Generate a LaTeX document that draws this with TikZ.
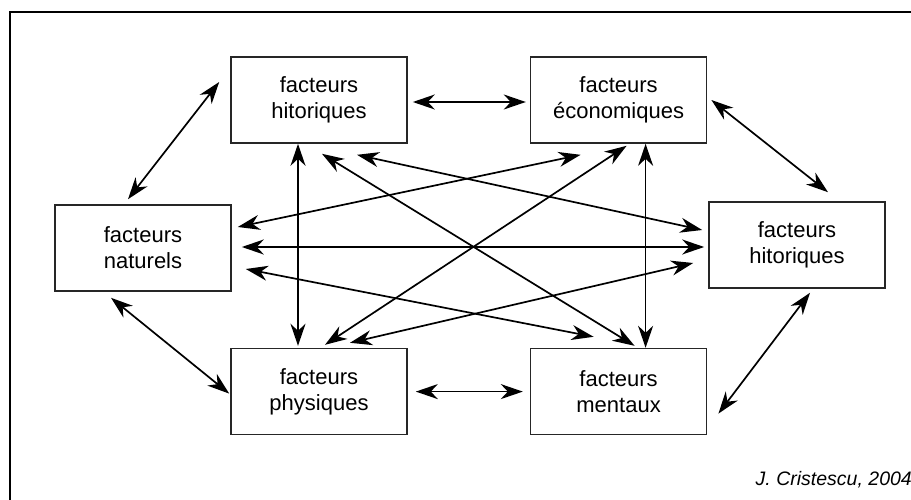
\documentclass[tikz,border=0pt]{standalone}
\usepackage{fontspec}
\setmainfont{Liberation Sans}
\usetikzlibrary{arrows.meta,positioning,calc}

\begin{document}
\begin{tikzpicture}[x=1pt,y=-1pt,
   factor/.style={draw=black!85,fill=white,line width=1.6pt,minimum width=176pt,
                  minimum height=86pt,inner sep=0pt,align=center,
                  font=\fontsize{22pt}{26pt}\selectfont},
   link/.style={line width=1.7pt,>={Stealth[length=22pt,width=15pt,inset=7pt]},<->}]
  \useasboundingbox (0,0) rectangle (911,500);
  \clip (0,0) rectangle (911,500);
  \draw[line width=2pt] (10,12) rectangle (940,530);
  % the six boxes
  \node[factor] (hist) at (319,100) {facteurs\\hitoriques};
  \node[factor,right=122pt of hist] (eco) {facteurs\\économiques};
  \node[factor] (nat) at (143,248) {facteurs\\naturels};
  \node[factor] (hist2) at (797,245) {facteurs\\hitoriques};
  \node[factor,below=204pt of hist] (phys) {facteurs\\physiques};
  \node[factor,below=204pt of eco] (ment) {facteurs\\mentaux};
  % outer ring
  \draw[link] ($(nat.north)+(-15,-5)$) -- ($(hist.west)+(-11,-18)$);
  \draw[link] ($(hist.east)+(5,2)$) -- ($(eco.west)+(-4,2)$);
  \draw[link] ($(eco.east)+(4,0)$) -- ($(hist2.north)+(31,-9)$);
  \draw[link] ($(hist2.south)+(13,4)$) -- ($(ment.east)+(11,22)$);
  \draw[link] ($(phys.east)+(8,0)$) -- ($(ment.west)+(-7,0)$);
  \draw[link] ($(nat.south)+(-32,6)$) -- ($(phys.west)+(-1,2)$);
  % cross links
  \draw[link] ($(hist.south)+(-21,0)$) -- ($(phys.north)+(-21,-2)$);
  \draw[link] ($(eco.south)+(27,0)$) -- ($(ment.north)+(27,0)$);
  \draw[link] ($(nat.east)+(10,-1)$) -- ($(hist2.west)+(-4,2)$);
  \draw[link] ($(hist.south)+(3,10)$) -- ($(ment.north)+(16,-2)$);
  \draw[link] ($(eco.south)+(8,2)$) -- ($(phys.north)+(6,-3)$);
  \draw[link] ($(hist.south)+(38,11)$) -- ($(hist2.west)+(-6,-15)$);
  \draw[link] ($(eco.south)+(-38,11)$) -- ($(nat.east)+(6,-21)$);
  \draw[link] ($(nat.east)+(14,21)$) -- ($(ment.north)+(-25,-11)$);
  \draw[link] ($(phys.north)+(31,-5)$) -- ($(hist2.west)+(-15,18)$);
  \node[anchor=east,inner sep=0pt,font=\itshape\fontsize{19.5pt}{21pt}\selectfont]
    (credit) at (912,480) {J. Cristescu, 2004};
\end{tikzpicture}
\end{document}
